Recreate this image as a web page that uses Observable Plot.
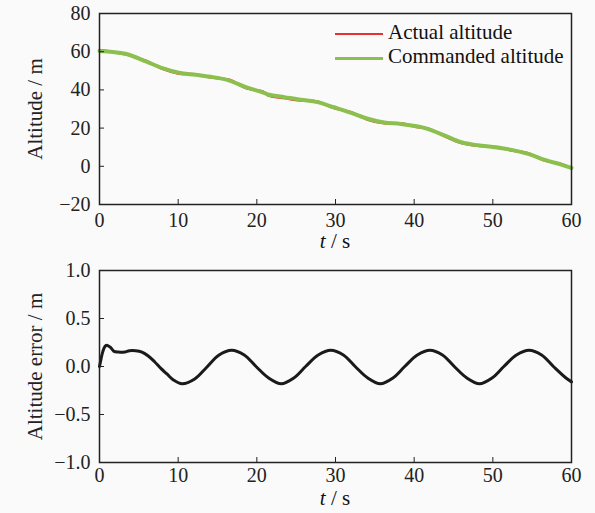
<!DOCTYPE html>
<html><head><meta charset="utf-8">
<script src="https://cdn.jsdelivr.net/npm/d3@7"></script>
<script src="https://cdn.jsdelivr.net/npm/@observablehq/plot@0.6"></script>
<style>
html,body{margin:0;padding:0;background:#fafafa;}
#wrap{position:relative;width:595px;height:513px;font-family:"Liberation Serif","DejaVu Serif",serif;color:#111;}
#wrap svg{display:block;background:transparent;font-family:"Liberation Serif","DejaVu Serif",serif;}
#wrap svg g[aria-label*="tick label"] text{font-size:20px;}
.xl{position:absolute;left:99px;width:472px;text-align:center;font-size:21px;line-height:14px;}
.leg{position:absolute;left:335px;font-size:21px;line-height:24px;}
.leg span.sw{display:inline-block;width:48px;vertical-align:middle;margin-right:5px;}
</style></head>
<body><div id="wrap"></div>
<script>
// ---- data ----
const tTop = [0, 3.3, 5.9, 8.0, 10.1, 12.2, 14.4, 16.5, 18.6, 20.9, 21.4, 23.5, 25.6, 27.7, 29.8, 32.0, 34.1, 36.2, 38.3, 40.5, 41.7, 43.9, 46.0, 48.1, 50.2, 52.4, 54.5, 56.6, 58.7, 60];
const commanded = [60.4, 58.9, 54.9, 51.4, 49.0, 47.9, 46.7, 44.9, 41.4, 38.5, 37.6, 36.2, 34.8, 33.6, 30.9, 28.0, 24.9, 22.9, 22.2, 20.8, 19.6, 16.1, 12.6, 11.0, 10.0, 8.6, 6.5, 3.4, 0.9, -0.8];
const actual    = [60.9, 58.6, 55.3, 51.0, 48.5, 48.2, 46.3, 45.3, 41.0, 38.9, 37.2, 35.7, 34.4, 33.9, 30.5, 28.3, 24.4, 22.5, 22.5, 20.4, 19.9, 15.7, 12.2, 10.7, 10.3, 8.2, 6.8, 3.0, 1.2, -1.2];

const tErr = [0, 0.2, 0.4, 0.7, 1.0, 1.4, 1.8, 2.4, 3.2, 3.8, 4.6, 5.4, 6.2, 7.0, 7.8, 8.6, 9.4, 10.5, 12.1, 13.6, 15.2, 16.8, 18.4, 19.9, 21.5, 23.1, 24.7, 26.2, 27.8, 29.4, 31.0, 32.5, 34.1, 35.7, 37.3, 38.8, 40.4, 42.0, 43.6, 45.1, 46.7, 48.3, 49.9, 51.4, 53.0, 54.6, 56.2, 57.7, 59.3, 60];
const error = [0.0, 0.08, 0.15, 0.21, 0.22, 0.2, 0.16, 0.15, 0.15, 0.165, 0.165, 0.15, 0.11, 0.05, -0.02, -0.08, -0.14, -0.18, -0.13, -0.01, 0.12, 0.17, 0.12, 0.0, -0.12, -0.18, -0.12, 0.0, 0.12, 0.17, 0.12, 0.0, -0.12, -0.18, -0.12, 0.0, 0.12, 0.17, 0.12, 0.0, -0.12, -0.18, -0.12, 0.0, 0.12, 0.17, 0.12, 0.0, -0.12, -0.16];

const xTicks = [0, 10, 20, 30, 40, 50, 60];
const yTicksTop = [-20, 0, 20, 40, 60, 80];
const yTicksBot = [-1.0, -0.5, 0.0, 0.5, 1.0];
const seriesNames = ["Actual altitude", "Commanded altitude"];
const seriesColors = ["#e8302f", "#8bc04e"];
const yLabels = ["Altitude / m", "Altitude error / m"];
const xLabel = "t / s";

const topData = tTop.map((t, i) => ({t, c: commanded[i], a: actual[i]}));
const errData = tErr.map((t, i) => ({t, e: error[i]}));

const ink = "#222";
const serif = '"Liberation Serif","DejaVu Serif",serif';
const common = {
  width: 595,
  marginLeft: 99, marginRight: 24,
  style: {fontFamily: serif, fontSize: "20px", color: ink, background: "transparent"}
};

function axes(yTicks, yFmt, ylab, xPad) {
  return [
    Plot.axisX(xTicks, {tickSize: -5, tickPadding: xPad, label: null, stroke: ink, fill: ink, fontSize: 20, fontFamily: serif}),
    Plot.axisY(yTicks, {tickSize: -5, tickPadding: 14, label: null, tickFormat: yFmt, stroke: ink, fill: ink, fontSize: 20, fontFamily: serif}),
    Plot.text([ylab], {frameAnchor: "left", textAnchor: "middle", dx: -64, rotate: -90, text: d => d, fontSize: 21, fill: ink, fontFamily: serif}),
    Plot.frame({stroke: ink, strokeWidth: 1.5})
  ];
}

const chartTop = Plot.plot({
  ...common,
  height: 257, marginTop: 13, marginBottom: 53,
  x: {domain: [0, 60]},
  y: {domain: [-20, 80]},
  marks: [
    Plot.line(topData, {x: "t", y: "a", stroke: seriesColors[0], strokeWidth: 2.5, curve: "catmull-rom"}),
    Plot.line(topData, {x: "t", y: "c", stroke: seriesColors[1], strokeWidth: 4, curve: "catmull-rom"}),
    ...axes(yTicksTop, d => d3.format("d")(d), yLabels[0], 13)
  ]
});

const chartBot = Plot.plot({
  ...common,
  height: 256, marginTop: 13, marginBottom: 51,
  x: {domain: [0, 60]},
  y: {domain: [-1, 1]},
  marks: [
    Plot.line(errData, {x: "t", y: "e", stroke: "#1a1a1a", strokeWidth: 3, curve: "catmull-rom"}),
    ...axes(yTicksBot, d3.format(".1f"), yLabels[1], 10)
  ]
});

const wrap = document.getElementById("wrap");
wrap.appendChild(chartTop);
wrap.appendChild(chartBot);

function addXLabel(topPx) {
  const d = document.createElement("div");
  d.className = "xl";
  d.style.top = topPx + "px";
  const parts = xLabel.split(" ");
  const i = document.createElement("i");
  i.textContent = parts[0];
  d.appendChild(i);
  d.appendChild(document.createTextNode(" " + parts.slice(1).join(" ")));
  wrap.appendChild(d);
}
addXLabel(234);
addXLabel(491);

seriesNames.forEach((name, k) => {
  const d = document.createElement("div");
  d.className = "leg";
  d.style.top = (20 + k * 24) + "px";
  const sw = document.createElement("span");
  sw.className = "sw";
  sw.style.borderTop = (k === 0 ? 2.5 : 3.5) + "px solid " + seriesColors[k];
  d.appendChild(sw);
  d.appendChild(document.createTextNode(name));
  wrap.appendChild(d);
});
</script>
</body></html>
